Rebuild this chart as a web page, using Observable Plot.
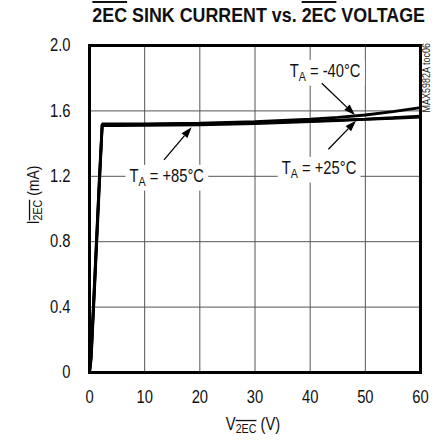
<!DOCTYPE html>
<html><head><meta charset="utf-8">
<script src="https://cdn.jsdelivr.net/npm/d3@7"></script>
<script src="https://cdn.jsdelivr.net/npm/@observablehq/plot@0.6"></script>
<style>
body{margin:0;background:#fff;font-family:"Liberation Sans",Arial,sans-serif;}
#title{width:379px;margin-left:63px;height:32px;box-sizing:border-box;padding-top:3px;font-size:21px;font-weight:bold;text-align:center;line-height:24px;white-space:nowrap;color:#111;}
#title span.in{display:inline-block;transform:scaleX(0.85);transform-origin:50% 50%;}
.ol{text-decoration:overline;}
</style></head><body>
<div id="title"><span class="in"><span class="ol">2EC</span> SINK CURRENT vs. <span class="ol">2EC</span> VOLTAGE</span></div>
<div id="chart"></div>
<script>
// ---- data ----
const xTicks = [0, 10, 20, 30, 40, 50, 60];
const yTicks = [0, 0.4, 0.8, 1.2, 1.6, 2.0];
const voltage = [0, 0.3, 1.0, 1.8, 2.3, 5, 10, 20, 30, 40, 45, 50, 55, 60];
const currentM40 = [0, 0.12, 0.62, 1.2, 1.52, 1.52, 1.52, 1.525, 1.535, 1.55, 1.56, 1.575, 1.595, 1.62];
const currentP25 = [0, 0.1, 0.6, 1.18, 1.515, 1.515, 1.517, 1.52, 1.528, 1.537, 1.543, 1.55, 1.558, 1.568];
const currentP85 = [0, 0.08, 0.57, 1.15, 1.51, 1.51, 1.512, 1.515, 1.523, 1.535, 1.541, 1.548, 1.555, 1.562];
const seriesNames = ["-40°C", "+25°C", "+85°C"];
const seriesValues = [currentM40, currentP25, currentP85];

// annotations
const labelTemp = ["-40°C", "+25°C", "+85°C"];
const labelV = [42.8, 41.7, 14.1];
const labelI = [1.841, 1.248, 1.199];
const tailV = [42.2, 43.4, 13.6];
const tailI = [1.766, 1.362, 1.297];
const tipV = [48.2, 48.4, 18.6];
const tipI = [1.572, 1.537, 1.497];

const FONT = "Liberation Sans, Arial, sans-serif";
const NARROW = 0.82;

const rows = [];
seriesNames.forEach((s, k) => voltage.forEach((v, j) => rows.push({series: s, v, i: seriesValues[k][j]})));

const plot = Plot.plot({
  width: 442, height: 409,
  marginTop: 13, marginBottom: 69, marginLeft: 89, marginRight: 22,
  style: {fontFamily: FONT, fontSize: "18px", color: "#111", background: "#fff"},
  x: {domain: [0, 60], ticks: xTicks, tickSize: 0, tickPadding: 18, label: null},
  y: {domain: [0, 2], ticks: yTicks, tickSize: 0, tickPadding: 19, label: null,
      tickFormat: d => d === 0 ? "0" : d.toFixed(1)},
  marks: [
    Plot.ruleX(xTicks.slice(1, -1), {stroke: "#555", strokeWidth: 1}),
    Plot.ruleY(yTicks.slice(1, -1), {stroke: "#555", strokeWidth: 1}),
    Plot.line(rows, {x: "v", y: "i", z: "series", stroke: "#000", strokeWidth: 2.8, strokeLinejoin: "miter"}),
    Plot.frame({stroke: "#000", strokeWidth: 3})
  ]
});
document.getElementById("chart").append(plot);

const sx = plot.scale("x"), sy = plot.scale("y");
const svg = d3.select(plot);
const g = svg.append("g").attr("font-family", FONT);

function condense(node) {
  const w = node.getComputedTextLength();
  if (w > 0) {
    node.setAttribute("textLength", (w * NARROW).toFixed(2));
    node.setAttribute("lengthAdjust", "spacingAndGlyphs");
  }
}

labelTemp.forEach((t, k) => {
  const cx = sx.apply(labelV[k]), cy = sy.apply(labelI[k]);
  const lg = g.append("g").attr("transform", `translate(${cx},${cy}) scale(${NARROW},1)`);
  const bg = lg.append("rect").attr("fill", "#fff");
  const txt = lg.append("text").attr("text-anchor", "middle")
    .attr("dy", "0.35em").attr("font-size", 18).attr("fill", "#111");
  txt.append("tspan").text("T");
  txt.append("tspan").attr("font-size", 13).attr("dy", 4).text("A");
  txt.append("tspan").attr("dy", -4).text(" = " + t);
  const b = txt.node().getBBox();
  bg.attr("x", b.x - 5).attr("y", b.y - 1).attr("width", b.width + 10).attr("height", b.height + 2);
  // arrow
  const x1 = sx.apply(tailV[k]), y1 = sy.apply(tailI[k]);
  const x2 = sx.apply(tipV[k]), y2 = sy.apply(tipI[k]);
  const dx = x2 - x1, dy = y2 - y1, L = Math.hypot(dx, dy);
  const ux = dx / L, uy = dy / L, hl = 11, hw = 3.8;
  const bx = x2 - ux * hl, by = y2 - uy * hl;
  g.append("line").attr("x1", x1).attr("y1", y1).attr("x2", bx).attr("y2", by)
    .attr("stroke", "#000").attr("stroke-width", 1.3);
  g.append("path").attr("d", `M${x2},${y2}L${bx - uy * hw},${by + ux * hw}L${bx + uy * hw},${by - ux * hw}Z`)
    .attr("fill", "#000");
});

// condense axis tick labels
svg.selectAll("g[aria-label*='tick label'] text").each(function() { condense(this); });

// axis titles
const yl = g.append("text").attr("transform", `translate(39,163) rotate(-90) scale(${NARROW},1)`)
  .attr("text-anchor", "middle").attr("font-size", 17).attr("fill", "#111");
yl.append("tspan").text("I");
yl.append("tspan").attr("font-size", 13).attr("dy", 3).attr("text-decoration", "overline").text("2EC");
yl.append("tspan").attr("dy", -3).text(" (mA)");

const xl = g.append("text").attr("transform", `translate(253,398) scale(${NARROW},1)`)
  .attr("text-anchor", "middle").attr("font-size", 18).attr("fill", "#111");
xl.append("tspan").text("V");
xl.append("tspan").attr("font-size", 13).attr("dy", 3).attr("text-decoration", "overline").text("2EC");
xl.append("tspan").attr("dy", -3).text(" (V)");

g.append("text").attr("transform", `translate(430,11) rotate(-90) scale(${NARROW},1)`)
  .attr("text-anchor", "end").attr("font-size", 11).attr("fill", "#222").text("MAX5982A toc06");
</script>
</body></html>
